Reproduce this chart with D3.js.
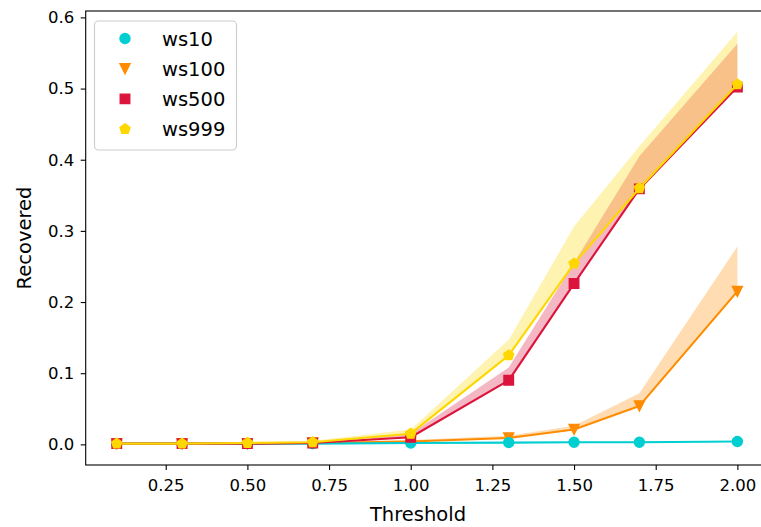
<!DOCTYPE html>
<html>
<head>
<meta charset="utf-8">
<script src="https://cdn.jsdelivr.net/npm/d3@7"></script>
<style>
  body { margin: 0; background: #fff; }
  text { font-family: "DejaVu Sans", sans-serif; fill: #000; }
</style>
</head>
<body>
<div class="canvas"></div>
<script>
// data
const thresholds = [0.1, 0.3, 0.5, 0.7, 1.0, 1.3, 1.5, 1.7, 2.0];
const ws10 = [0.001, 0.001, 0.001, 0.001, 0.002, 0.0025, 0.003, 0.003, 0.004];
const ws10Upper = [0.001, 0.001, 0.001, 0.0015, 0.0025, 0.003, 0.0035, 0.0035, 0.0045];
const ws100 = [0.001, 0.001, 0.001, 0.002, 0.004, 0.009, 0.021, 0.054, 0.215];
const ws100Upper = [0.001, 0.001, 0.0015, 0.003, 0.006, 0.012, 0.026, 0.072, 0.278];
const ws500 = [0.001, 0.001, 0.001, 0.002, 0.010, 0.090, 0.226, 0.359, 0.502];
const ws500Upper = [0.001, 0.001, 0.0015, 0.003, 0.015, 0.108, 0.255, 0.405, 0.563];
const ws999 = [0.001, 0.001, 0.002, 0.003, 0.015, 0.125, 0.254, 0.360, 0.506];
const ws999Upper = [0.001, 0.0015, 0.0025, 0.005, 0.021, 0.147, 0.306, 0.419, 0.580];
const seriesNames = ['ws10', 'ws100', 'ws500', 'ws999'];
const xTicks = [0.25, 0.5, 0.75, 1.0, 1.25, 1.5, 1.75, 2.0];
const yTicks = [0.0, 0.1, 0.2, 0.3, 0.4, 0.5, 0.6];

const dims = { width: 761, height: 527 };
const plot = { left: 85.7, right: 768.4, top: 11, bottom: 465 };

const colour = d3.scaleOrdinal()
  .domain(seriesNames)
  .range(['#00ced1', '#ff8c00', '#dc143c', '#ffd700']);

// custom marker shapes (matplotlib o, v, s, p)
const ms = 10;
const shapes = {
  ws10: { draw(ctx) { ctx.moveTo(ms / 2, 0); ctx.arc(0, 0, ms / 2, 0, 2 * Math.PI); } },
  ws100: { draw(ctx) { const h = ms / 2; ctx.moveTo(0, h); ctx.lineTo(-h, -h); ctx.lineTo(h, -h); ctx.closePath(); } },
  ws500: { draw(ctx) { const h = ms / 2 * 0.95; ctx.moveTo(-h, -h); ctx.lineTo(h, -h); ctx.lineTo(h, h); ctx.lineTo(-h, h); ctx.closePath(); } },
  ws999: { draw(ctx) {
    const r = ms / 2 * 1.05;
    for (let k = 0; k < 5; k++) {
      const a = -Math.PI / 2 + k * 2 * Math.PI / 5;
      const px = r * Math.cos(a), py = r * Math.sin(a);
      if (k === 0) ctx.moveTo(px, py); else ctx.lineTo(px, py);
    }
    ctx.closePath();
  } }
};

const series = [
  { name: 'ws10', mean: ws10, upper: ws10Upper },
  { name: 'ws100', mean: ws100, upper: ws100Upper },
  { name: 'ws500', mean: ws500, upper: ws500Upper },
  { name: 'ws999', mean: ws999, upper: ws999Upper }
];

const svg = d3.select('.canvas')
  .append('svg')
  .attr('width', dims.width)
  .attr('height', dims.height);

const x = d3.scaleLinear().domain([0.005, 2.095]).range([plot.left, plot.right]);
const y = d3.scaleLinear().domain([-0.029, 0.609]).range([plot.bottom, plot.top]);

// bands
const area = d3.area()
  .x((d, i) => x(thresholds[i]))
  .y0(d => y(d[0]))
  .y1(d => y(d[1]));

series.forEach(s => {
  svg.append('path')
    .datum(s.mean.map((m, i) => [m, s.upper[i]]))
    .attr('d', area)
    .attr('fill', colour(s.name))
    .attr('fill-opacity', 0.3);
});

// lines and markers (ws10 drawn over ws100 as in the picture)
const line = d3.line()
  .x((d, i) => x(thresholds[i]))
  .y(d => y(d));

const drawOrder = ['ws100', 'ws10', 'ws500', 'ws999'];
drawOrder.forEach(name => {
  const s = series.find(d => d.name === name);
  const g = svg.append('g');
  g.append('path')
    .attr('d', line(s.mean))
    .attr('fill', 'none')
    .attr('stroke', colour(name))
    .attr('stroke-width', 2.1)
    .attr('stroke-linejoin', 'round');
  g.selectAll('path.marker')
    .data(s.mean)
    .enter()
    .append('path')
      .attr('class', 'marker')
      .attr('d', d3.symbol().type(shapes[name]))
      .attr('transform', (d, i) => `translate(${x(thresholds[i])}, ${y(d)})`)
      .attr('fill', colour(name))
      .attr('stroke', colour(name))
      .attr('stroke-width', 1.4);
});

// axes
const xAxis = svg.append('g')
  .attr('transform', `translate(0, ${plot.bottom})`)
  .call(d3.axisBottom(x).tickValues(xTicks).tickFormat(d3.format('.2f')).tickSize(5).tickSizeOuter(0).tickPadding(9));
const yAxis = svg.append('g')
  .attr('transform', `translate(${plot.left}, 0)`)
  .call(d3.axisLeft(y).tickValues(yTicks).tickFormat(d3.format('.1f')).tickSize(5).tickSizeOuter(0).tickPadding(6.5));

[xAxis, yAxis].forEach(a => {
  a.select('.domain').remove();
  a.selectAll('line').attr('stroke', '#000').attr('stroke-width', 1.1);
  a.selectAll('text')
    .attr('font-family', '"DejaVu Sans", sans-serif')
    .attr('font-size', 16.5)
    .attr('fill', '#000');
});

// frame
svg.append('rect')
  .attr('x', plot.left)
  .attr('y', plot.top)
  .attr('width', plot.right - plot.left)
  .attr('height', plot.bottom - plot.top)
  .attr('fill', 'none')
  .attr('stroke', '#000')
  .attr('stroke-width', 1.1);

// axis labels
svg.append('text')
  .attr('x', 418)
  .attr('y', 521)
  .attr('text-anchor', 'middle')
  .attr('font-size', 19.5)
  .text('Threshold');

svg.append('text')
  .attr('transform', `translate(31, ${(plot.top + plot.bottom) / 2}) rotate(-90)`)
  .attr('text-anchor', 'middle')
  .attr('font-size', 19.5)
  .text('Recovered');

// legend
const legend = svg.append('g');
legend.append('rect')
  .attr('x', 94.5)
  .attr('y', 21)
  .attr('width', 142)
  .attr('height', 129)
  .attr('rx', 4)
  .attr('fill', '#fff')
  .attr('fill-opacity', 0.8)
  .attr('stroke', '#cccccc')
  .attr('stroke-width', 1.1);

seriesNames.forEach((name, i) => {
  const ly = 38.5 + i * 30.2;
  legend.append('path')
    .attr('d', d3.symbol().type(shapes[name]))
    .attr('transform', `translate(125, ${ly})`)
    .attr('fill', colour(name))
    .attr('stroke', colour(name))
    .attr('stroke-width', 1.4);
  legend.append('text')
    .attr('x', 162)
    .attr('y', ly + 7)
    .attr('font-size', 19.5)
    .text(name);
});
</script>
</body>
</html>
